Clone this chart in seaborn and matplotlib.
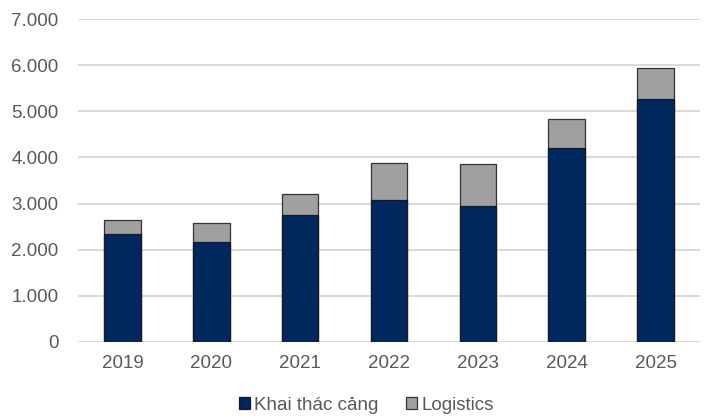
import matplotlib
matplotlib.use("Agg")
import matplotlib.pyplot as plt
from matplotlib.ticker import FuncFormatter
from matplotlib.patches import Patch
import seaborn as sns
import pandas as pd

years = ["2019", "2020", "2021", "2022", "2023", "2024", "2025"]
khai_thac_cang = [2340, 2160, 2750, 3070, 2940, 4200, 5270]
logistics = [300, 420, 450, 820, 910, 630, 670]

navy = "#00275E"
grey = "#A0A0A0"
text_col = "#595959"

sns.set_style("white")
plt.rcParams["font.family"] = ["Liberation Sans", "DejaVu Sans"]

df = pd.DataFrame({"year": years, "khai": khai_thac_cang, "log": logistics})
df["total"] = df["khai"] + df["log"]

fig = plt.figure(figsize=(7.06, 4.19), dpi=100)
ax = fig.add_axes([78 / 706, 1 - 342 / 419, 622 / 706, 323 / 419])

# tong (xam) ve truoc, khai thac cang (xanh) de len tren
sns.barplot(data=df, x="year", y="total", color=grey, width=0.41,
            edgecolor="#333333", linewidth=0.9, saturation=1, ax=ax, zorder=2)
sns.barplot(data=df, x="year", y="khai", color=navy, width=0.41,
            edgecolor="#1a1a1a", linewidth=0.9, saturation=1, ax=ax, zorder=3)

ax.set_ylim(0, 7000)
ax.set_yticks(range(0, 7001, 1000))
ax.yaxis.set_major_formatter(FuncFormatter(lambda v, p: f"{int(v):,}".replace(",", ".")))
ax.grid(axis="y", color="#D9D9D9", linewidth=1.4, zorder=0)
ax.set_axisbelow(True)
for s in ax.spines.values():
    s.set_visible(False)
ax.tick_params(axis="both", length=0, labelsize=13.5, labelcolor=text_col)
ax.tick_params(axis="y", pad=14)
ax.tick_params(axis="x", pad=9)
ax.set_xlabel("")
ax.set_ylabel("")

handles = [Patch(facecolor=navy, edgecolor="#1a1a1a", linewidth=0.9),
           Patch(facecolor=grey, edgecolor="#333333", linewidth=0.9)]
leg = fig.legend(handles, ["Khai thác cảng", "Logistics"], loc="center",
                 bbox_to_anchor=(366 / 706, 1 - 405 / 419), ncol=2, frameon=False,
                 fontsize=13.5, handlelength=0.6, handleheight=0.6, handletextpad=0.2,
                 columnspacing=1.5)
for t in leg.get_texts():
    t.set_color(text_col)

fig.savefig("out.png", dpi=100)
